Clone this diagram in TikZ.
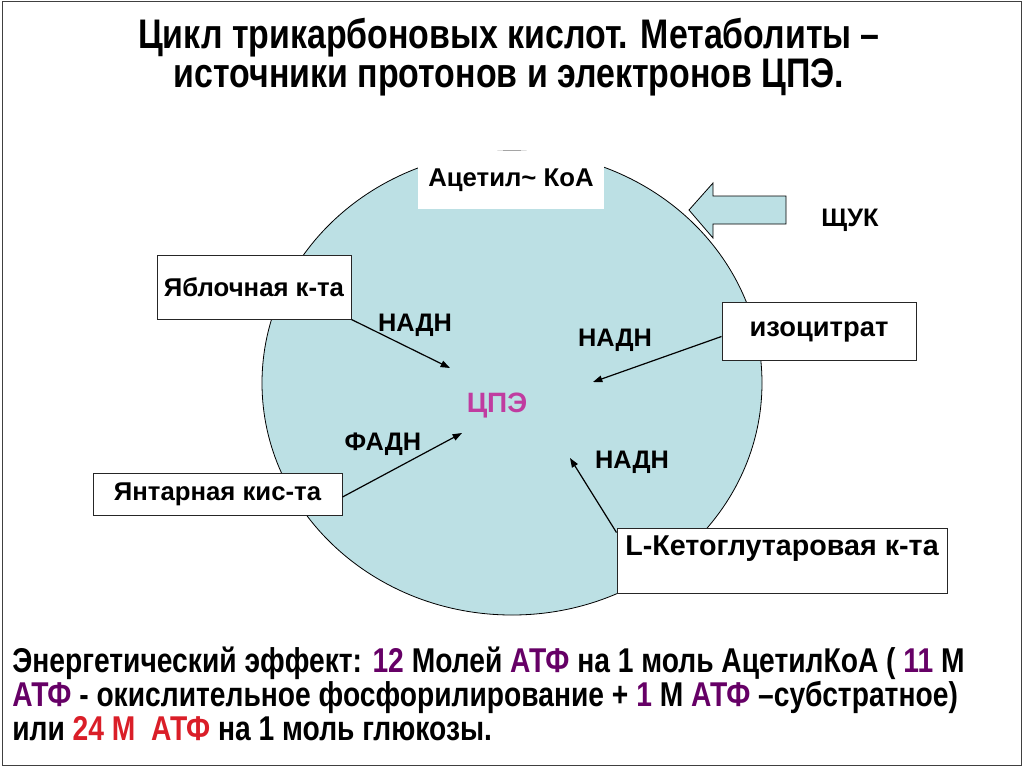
\documentclass[tikz,border=0pt]{standalone}
\usepackage{fontspec}
\setmainfont{Liberation Sans}
\newfontfamily\narrowfont{Liberation Sans}[FakeStretch=0.82]
\usetikzlibrary{arrows.meta,calc}
\definecolor{cyclefill}{RGB}{188,224,228}
\definecolor{atppurple}{RGB}{102,0,102}
\definecolor{atpred}{RGB}{218,30,40}
\definecolor{cpecol}{RGB}{192,60,160}
\begin{document}
\begin{tikzpicture}[x=0.75pt,y=-0.75pt,
  lbl/.style={font=\bfseries\fontsize{19}{22}\selectfont, inner sep=0pt},
  box/.style={draw=black!85, line width=0.75pt, fill=white, inner sep=0pt,
              font=\bfseries\fontsize{19.3}{22}\selectfont},
  flow/.style={-{Triangle[length=7pt,width=5pt]}, line width=0.9pt},
  titletext/.style={font=\narrowfont\bfseries\fontsize{31}{26}\selectfont, align=center, inner sep=0pt},
  effect/.style={font=\narrowfont\bfseries\fontsize{25.8}{30}\selectfont, anchor=base west, inner sep=0pt},
  ]
\useasboundingbox (0,0) rectangle (1024,768);
\fill[white] (0,0) rectangle (1024,768);
\draw[black!75, line width=0.75pt] (2,1) rectangle (1021,765);

% title
\node[titletext] (title) at (509,57) {Цикл трикарбоновых кислот. Метаболиты –\\источники протонов и электронов ЦПЭ.};

% cycle
\fill[cyclefill, draw=black, line width=0.6pt] (512,383) ellipse [x radius=187.5pt, y radius=174pt];

% OAA arrow
\filldraw[fill=cyclefill, draw=black, line width=0.6pt]
  (689,210) -- (713,183) -- (713,196) -- (786,196) -- (786,224) -- (713,224) -- (713,238) -- cycle;
\node[lbl] (oaa) at (850,220) {ЩУК};

% boxes
\node[box, draw=none, minimum width=139.5pt, minimum height=44pt] (acetyl) at (511,180) {Ацетил\char`~\ КоА};
\node[box, minimum width=145.5pt, minimum height=48pt] (malic) at (254,287) {Яблочная к-та};
\node[box, minimum width=145.5pt, minimum height=43pt, font=\bfseries\fontsize{20.5}{23}\selectfont] (isocit) at (819,331.5) {изоцитрат};
\node[box, minimum width=186.75pt, minimum height=31.5pt] (succ) at (217.5,494) {Янтарная кис-та};
\node[box, minimum width=247.5pt, minimum height=48.75pt, align=center, font=\bfseries\fontsize{21.5}{22}\selectfont] (keto) at (782,560.5) {L-Кетоглутаровая к-та\\\mbox{}};

% centre
\node[lbl, font=\bfseries\fontsize{21}{24}\selectfont, text=cpecol] (cpe) at (497,406) {ЦПЭ};

% labels
\node[lbl] (nadh1) at (415,325) {НАДН};
\node[lbl] (nadh2) at (615,340) {НАДН};
\node[lbl] (fadh) at (383,444) {ФАДН};
\node[lbl] (nadh3) at (632,462) {НАДН};

% arrow tips
\coordinate (t1) at (450,368);
\coordinate (t2) at (593,382);
\coordinate (t3) at (462,433);
\coordinate (t4) at (570,458);

\draw[flow] (malic.south east) -- (t1);
\draw[flow] ($(isocit.west)+(0,5)$) -- (t2);
\draw[flow] ($(succ.east)+(0,3)$) -- (t3);
\draw[flow] ($(keto.north west)+(0,5)$) -- (t4);

% energy effect
\node[effect] (e1) at (12,672) {Энергетический эффект: \textcolor{atppurple}{12} Молей \textcolor{atppurple}{АТФ} на 1 моль АцетилКоА ( \textcolor{atppurple}{11} М};
\node[effect] (e2) at (12,706) {\textcolor{atppurple}{АТФ} - окислительное фосфорилирование + \textcolor{atppurple}{1} М \textcolor{atppurple}{АТФ} –субстратное)};
\node[effect] (e3) at (12,740) {или \textcolor{atpred}{24 М\ \ АТФ} на 1 моль глюкозы.};
\end{tikzpicture}
\end{document}
